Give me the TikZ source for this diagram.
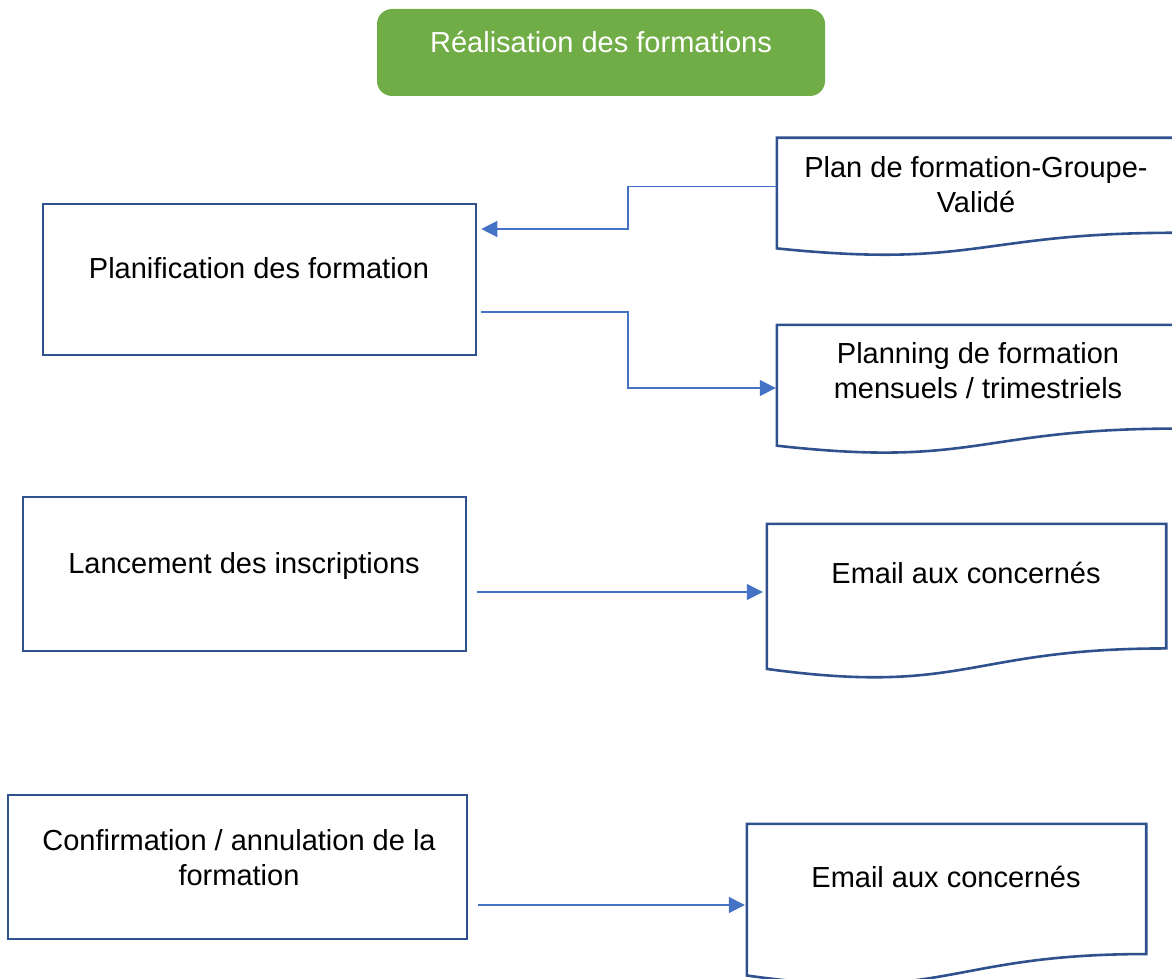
\documentclass[tikz,border=0pt]{standalone}
\usepackage{fontspec}
\setmainfont{Liberation Sans}
\usetikzlibrary{arrows.meta,calc}

\definecolor{boxblue}{HTML}{2F528F}
\definecolor{linkblue}{HTML}{4472C4}
\definecolor{headgreen}{HTML}{70AD47}

% outline of a flowchart "document" shape with a wavy bottom edge
\newcommand\drawdoc[1]{%
  \draw[docline] (#1.north west) -- (#1.north east)
    -- ($(#1.north east)!0.802!(#1.south east)$)
    .. controls ($(#1.north)!0.802!(#1.south)$) and ($(#1.north)!1.108!(#1.south)$)
    .. ($(#1.north west)!0.934!(#1.south west)$) -- cycle;}

\begin{document}
\begin{tikzpicture}[x=1pt,y=-1pt,
  txt/.style={inner sep=0pt, font=\fontsize{29pt}{35pt}\selectfont, align=center, anchor=base},
  procbox/.style={draw=boxblue, line width=2.6pt, inner sep=0pt},
  docbox/.style={draw=none, inner sep=0pt},
  docline/.style={draw=boxblue, line width=2.6pt, line join=miter},
  headbox/.style={fill=headgreen, rounded corners=15pt, inner sep=0pt},
  link/.style={draw=linkblue, line width=1.3pt, -{Triangle[length=16pt,width=16pt]}}
]
\clip (0,0) rectangle (1172,979);

% title
\node[headbox, minimum width=448pt, minimum height=87pt] (head) at (601,52.5) {};
\node[txt, text=white] (headtxt) at (601,53) {Réalisation des formations};

% process boxes (multi-line texts are placed by the baseline of their last line)
\node[procbox, minimum width=433pt, minimum height=151pt] (b1) at (259.5,279.5) {};
\node[txt] (b1txt) at (259,278) {Planification des formation};

\node[procbox, minimum width=443pt, minimum height=154pt] (b2) at (244.5,574) {};
\node[txt] (b2txt) at (244,573) {Lancement des inscriptions};

\node[procbox, minimum width=459pt, minimum height=144pt] (b3) at (237.5,867) {};
\node[txt] (b3txt) at (239,885) {Confirmation / annulation de la\\formation};

% documents
\node[docbox, minimum width=400pt, minimum height=118pt] (d1) at (977,197) {};
\drawdoc{d1}
\node[txt] (d1txt) at (976,212) {Plan de formation-Groupe-\\Validé};

\node[docbox, minimum width=400pt, minimum height=129pt] (d2) at (977,389.5) {};
\drawdoc{d2}
\node[txt] (d2txt) at (978,398) {Planning de formation\\mensuels / trimestriels};

\node[docbox, minimum width=399pt, minimum height=155pt] (d3) at (966.5,601.5) {};
\drawdoc{d3}
\node[txt] (d3txt) at (966,583) {Email aux concernés};

\node[docbox, minimum width=399pt, minimum height=162pt] (d4) at (946.5,905) {};
\drawdoc{d4}
\node[txt] (d4txt) at (946,887) {Email aux concernés};

% connector end points
\coordinate (mx) at (628,0);
\coordinate (s1) at ($(d1.north west)+(0,49)$);
\coordinate (e1) at ($(b1.east)+(4,-50.5)$);
\coordinate (s2) at ($(b1.east)+(4,32.5)$);
\coordinate (e2) at ($(d2.west)+(-1,-1.5)$);
\coordinate (s3) at ($(b2.east)+(10,18)$);
\coordinate (e3) at ($(d3.west)+(-4,-9.5)$);
\coordinate (s4) at ($(b3.east)+(10,38)$);
\coordinate (e4) at ($(d4.west)+(-2,0)$);

% connectors
\draw[link] (s1) -- (s1 -| mx) |- (e1);
\draw[link] (s2) -- (s2 -| mx) |- (e2);
\draw[link] (s3) -- (e3);
\draw[link] (s4) -- (e4);
\end{tikzpicture}
\end{document}
